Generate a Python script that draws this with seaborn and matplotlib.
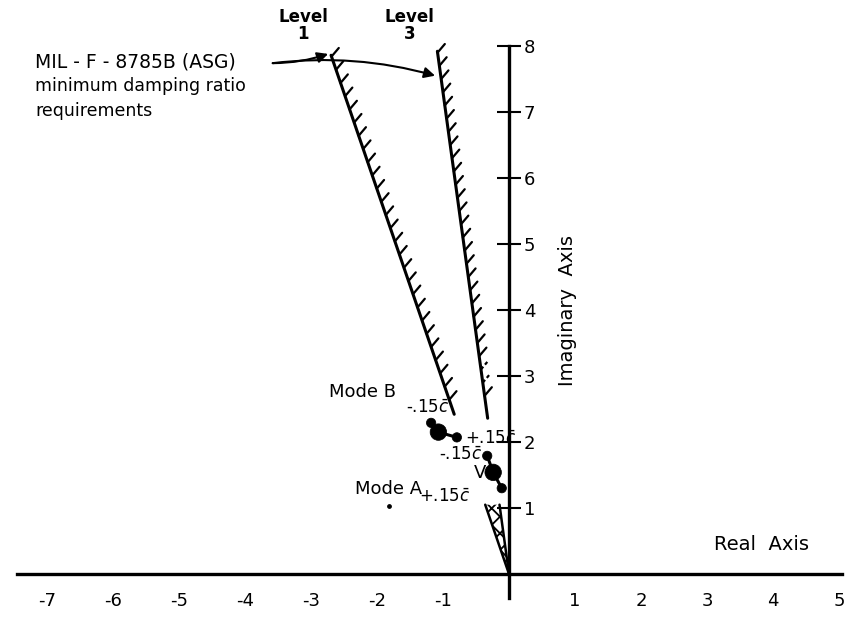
import numpy as np
import seaborn as sns
import matplotlib.pyplot as plt

# damping ratio boundaries (slope = |re| / im along the ray from the origin)
level_names = ['Level\n1', 'Level\n3']
level_slope = [0.343, 0.137]
level_top = [7.86, 7.92]
level_bottom = [2.42, 2.36]
wedge_top = 1.05

# roots: -.15c, nominal, +.15c
mode_b_re = [-1.18, -1.07, -0.79]
mode_b_im = [2.29, 2.15, 2.07]
mode_a_re = [-0.33, -0.24, -0.11]
mode_a_im = [1.79, 1.54, 1.30]
point_kind = ['end', 'nominal', 'end']

x_ticks = [-7, -6, -5, -4, -3, -2, -1, 0, 1, 2, 3, 4, 5]
x_labels = ['-7', '-6', '-5', '-4', '-3', '-2', '-1', '', '1', '2', '3', '4', '5']
y_ticks = [1, 2, 3, 4, 5, 6, 7, 8]
y_labels = ['1', '2', '3', '4', '5', '6', '7', '8']

sns.set_style('white')
plt.rcParams['font.family'] = ['DejaVu Sans']
plt.rcParams['text.color'] = 'black'
plt.rcParams['hatch.linewidth'] = 1.3

fig = plt.figure(figsize=(8.57, 6.22), dpi=100)
ax = fig.add_axes([0, 0, 1, 1])
ax.set_xlim(-509 / 66, 348 / 66)
ax.set_ylim(-48 / 66, 574 / 66)

# axes drawn as spines through the origin
for side in ['top', 'left']:
    ax.spines[side].set_visible(False)
ax.spines['bottom'].set_position(('data', 0))
ax.spines['bottom'].set_bounds(-7.45, 5.05)
ax.spines['right'].set_position(('data', 0))
ax.spines['right'].set_bounds(-0.36, 8)
for side in ['bottom', 'right']:
    ax.spines[side].set_linewidth(2.4)
    ax.spines[side].set_color('black')
ax.yaxis.tick_right()
ax.set_xticks(x_ticks)
ax.set_xticklabels(x_labels)
ax.set_yticks(y_ticks)
ax.set_yticklabels(y_labels)
ax.tick_params(axis='x', direction='inout', length=18, width=1.5, pad=4, labelsize=13, colors='black')
ax.tick_params(axis='y', direction='inout', length=17, width=1.5, pad=2, labelsize=13, colors='black')


def hatch_ray(slope, y0, y1, step=0.2, dashed=()):
    ys = np.arange(y1, y0, -step)
    for y in ys:
        x = -slope * y
        ls = (0, (1.6, 1.2)) if dashed and dashed[0] <= y <= dashed[1] else '-'
        ax.plot([x, x + 0.11], [y, y + 0.13], color='black', lw=1.6, ls=ls,
                solid_capstyle='round')


for i in range(2):
    s = level_slope[i]
    ax.plot([-s * level_bottom[i], -s * level_top[i]], [level_bottom[i], level_top[i]],
            color='black', lw=2.2)
    ax.plot([0, -s * wedge_top], [0, wedge_top], color='black', lw=1.8)
    ax.text(-s * level_top[i] - 0.42, 8.31, level_names[i], ha='center', va='center',
            fontsize=12, fontweight='semibold', linespacing=0.95)

hatch_ray(level_slope[0], level_bottom[0] + 0.05, level_top[0] - 0.02, step=0.2)
hatch_ray(level_slope[1], level_bottom[1] + 0.2, level_top[1] - 0.02, step=0.2,
          dashed=(2.75, 3.25))

# hatched wedge near the origin
ax.fill([0, -level_slope[0] * wedge_top, -level_slope[1] * wedge_top],
        [0, wedge_top, wedge_top], facecolor='none', edgecolor='black', lw=0, hatch='xx')

# root loci
for re, im in [(mode_b_re, mode_b_im), (mode_a_re, mode_a_im)]:
    sns.lineplot(x=re, y=im, sort=False, estimator=None, color='black', lw=2.2, ax=ax)
    sns.scatterplot(x=re, y=im, size=point_kind, sizes={'end': 45, 'nominal': 140},
                    color='black', edgecolor='black', legend=False, ax=ax, zorder=5)
ax.scatter([-1.82], [1.03], s=6, color='black')

ax.text(-2.72, 2.76, 'Mode B', fontsize=13, va='center')
ax.text(-0.9, 2.52, r'-.15$\bar{c}$', fontsize=12, ha='right', va='center')
ax.text(-0.66, 2.04, r'+.15$\bar{c}$', fontsize=12, ha='left', va='center')
ax.text(-0.41, 1.80, r'-.15$\bar{c}$', fontsize=12, ha='right', va='center')
ax.text(-0.58, 1.16, r'+.15$\bar{c}$', fontsize=12, ha='right', va='center')
ax.text(-0.44, 1.53, 'V', fontsize=13, ha='center', va='center')
ax.text(-2.33, 1.29, 'Mode A', fontsize=13, va='center')

ax.text(0.88, 4.0, 'Imaginary  Axis', rotation=90, fontsize=14, ha='center', va='center')
ax.text(3.83, 0.44, 'Real  Axis', fontsize=14, ha='center', va='center')

ax.text(-7.18, 7.76, 'MIL - F - 8785B (ASG)', fontsize=13.5, va='center')
ax.text(-7.18, 7.40, 'minimum damping ratio', fontsize=12.5, va='center')
ax.text(-7.18, 7.02, 'requirements', fontsize=12.5, va='center')

arrow = dict(arrowstyle='-|>', color='black', lw=1.5, mutation_scale=16, shrinkA=0, shrinkB=0)
ax.annotate('', xy=(-2.74, 7.88), xytext=(-3.58, 7.74),
            arrowprops=dict(arrow, connectionstyle='arc3,rad=0.08'))
ax.annotate('', xy=(-1.12, 7.55), xytext=(-3.58, 7.74),
            arrowprops=dict(arrow, connectionstyle='arc3,rad=-0.1'))

fig.savefig('out.png', dpi=100)
